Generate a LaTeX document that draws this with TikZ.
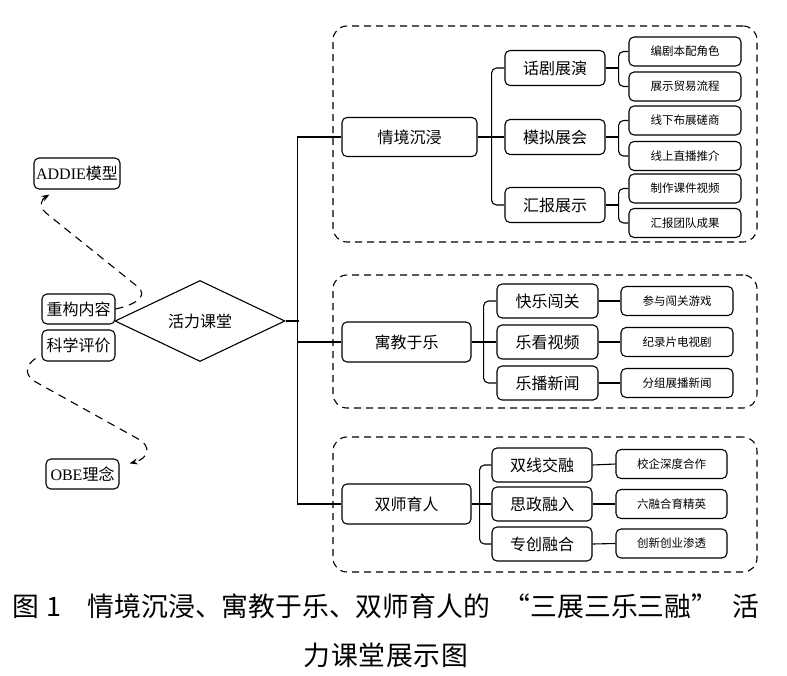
\documentclass[tikz,border=0pt]{standalone}
\usepackage{fontspec}
\setmainfont{Liberation Serif}
\newfontfamily\cjk{Noto Sans CJK SC}
\usetikzlibrary{shapes.geometric,arrows.meta,calc}
\begin{document}
\begin{tikzpicture}[x=1pt,y=-1pt,
  box/.style={draw, line width=1.1pt, rounded corners=5pt, fill=white, inner sep=0pt, font=\cjk\fontsize{16}{16}\selectfont},
  lvone/.style={box, minimum width=135pt, minimum height=39pt},
  lvtwo/.style={box, minimum width=100pt, minimum height=34pt},
  leaf/.style={box, minimum width=112pt, minimum height=29pt, font=\cjk\fontsize{11.5}{12}\selectfont},
  side/.style={box, minimum width=73pt, minimum height=30pt},
  grp/.style={draw, line width=1.1pt, dash pattern=on 7pt off 5pt, rounded corners=14pt, minimum width=424pt, inner sep=0pt},
  ln/.style={line width=1.1pt},
  br/.style={ln, rounded corners=5pt},
  dsh/.style={line width=1.1pt, dash pattern=on 8pt off 6pt, -{Stealth[length=8pt,width=6pt]}},
  captext/.style={font=\cjk\fontsize{26.8}{27}\selectfont, inner sep=0pt}]
\useasboundingbox (0,0) rectangle (787,675);

% groups
\node[grp, minimum height=216pt] (g1) at (545,134) {};
\node[grp, minimum height=133pt] (g2) at (545,341.5) {};
\node[grp, minimum height=135pt] (g3) at (545,504.5) {};

% level one
\node[lvone] (qj) at (409.5,137) {情境沉浸};
\node[lvone, minimum width=129pt, minimum height=40pt] (yj) at (406.5,342) {寓教于乐};
\node[lvone, minimum width=129pt, minimum height=40pt] (ss) at (406.5,504) {双师育人};

% group 1
\node[lvtwo, minimum height=35pt] (hj) at (555,68) {话剧展演};
\node[lvtwo, minimum height=35pt] (mn) at (555,137) {模拟展会};
\node[lvtwo, minimum height=35pt] (hb) at (555,205) {汇报展示};
\node[leaf] (bj) at (685,51.5) {编剧本配角色};
\node[leaf] (zs) at (685,86.5) {展示贸易流程};
\node[leaf] (xx) at (685,120.5) {线下布展磋商};
\node[leaf] (xs) at (685,156) {线上直播推介};
\node[leaf] (zz) at (685,188.5) {制作课件视频};
\node[leaf] (hd) at (685,223) {汇报团队成果};

% group 2
\node[lvtwo, minimum width=101pt] (kl) at (547.5,301) {快乐闯关};
\node[lvtwo, minimum width=101pt] (lk) at (547.5,342) {乐看视频};
\node[lvtwo, minimum width=101pt] (lb) at (547.5,383) {乐播新闻};
\node[leaf] (cy) at (677,301) {参与闯关游戏};
\node[leaf] (jl) at (677,342) {纪录片电视剧};
\node[leaf] (fz) at (677,383) {分组展播新闻};

% group 3
\node[lvtwo] (sx) at (542,465) {双线交融};
\node[lvtwo] (sz) at (542,504) {思政融入};
\node[lvtwo] (zc) at (542,544) {专创融合};
\node[leaf, minimum width=111pt] (xq) at (671.5,464) {校企深度合作};
\node[leaf, minimum width=111pt] (ll) at (671.5,504) {六融合育精英};
\node[leaf, minimum width=111pt] (cx) at (671.5,543.5) {创新创业渗透};

% diamond
\node[draw, diamond, ln, minimum width=170pt, minimum height=81pt, inner sep=0pt, font=\cjk\fontsize{16}{16}\selectfont] (dia) at (200,321) {活力课堂};

% side nodes
\node[side, minimum width=86pt, minimum height=31pt] (ad) at (77,173.5) {{\rmfamily ADDIE}模型};
\node[side] (ck) at (78.5,309) {重构内容};
\node[side, minimum height=31pt] (kx) at (78.5,345.5) {科学评价};
\node[side] (ob) at (82.5,474) {{\rmfamily OBE}理念};

% trunk
\draw[ln] (qj.west) -- ++(-44,0) |- (ss.west);
\draw[ln] (dia.east) -- ++(13,0);
\draw[ln] (yj.west) -- ++(-44,0);

% group 1 connectors
\draw[br] (hj.west) -| ($(qj.east)+(14,0)$) |- (hb.west);
\draw[ln] (qj.east) -- (mn.west);
\draw[br] (bj.west) -| ($(hj.east)+(13,0)$) |- (zs.west);
\draw[ln] (hj.east) -- ++(13,0);
\draw[br] (xx.west) -| ($(mn.east)+(13,0)$) |- (xs.west);
\draw[ln] (mn.east) -- ++(13,0);
\draw[br] (zz.west) -| ($(hb.east)+(13,0)$) |- (hd.west);
\draw[ln] (hb.east) -- ++(13,0);

% group 2 connectors
\draw[br] (kl.west) -| ($(yj.east)+(12,0)$) |- (lb.west);
\draw[ln] (yj.east) -- (lk.west);
\draw[ln] (kl.east) -- (cy.west);
\draw[ln] (lk.east) -- (jl.west);
\draw[ln] (lb.east) -- (fz.west);

% group 3 connectors
\draw[br] (sx.west) -| ($(ss.east)+(8,0)$) |- (zc.west);
\draw[ln] (ss.east) -- (sz.west);
\draw[ln] (sx.east) -- (xq.west);
\draw[ln] (sz.east) -- (ll.west);
\draw[ln] (zc.east) -- (cx.west);

% dashed arrows
\draw[dsh] (ck.east) .. controls (142,303) and (146,294) .. (138,287) -- (46,213) .. controls (38,206) and (42,199) .. ($(ad.south west)+(16,5)$);
\draw[dsh] ($(kx.south west)+(-6,-3)$) .. controls (26,365) and (24,374) .. (34,381) -- (140,440) .. controls (150,446) and (150,458) .. ($(ob.north east)+(10,5)$);

% caption
\node[captext, anchor=west] (capa) at (12,606) {图\hspace{8pt}1\hspace{26pt}情境沉浸、寓教于乐、双师育人的\hspace{14pt}“三展三乐三融”\hspace{14pt}活};
\node[captext] (capb) at (386,655) {力\hspace{0.8pt}课\hspace{0.8pt}堂\hspace{0.8pt}展\hspace{0.8pt}示\hspace{0.8pt}图};
\end{tikzpicture}
\end{document}
